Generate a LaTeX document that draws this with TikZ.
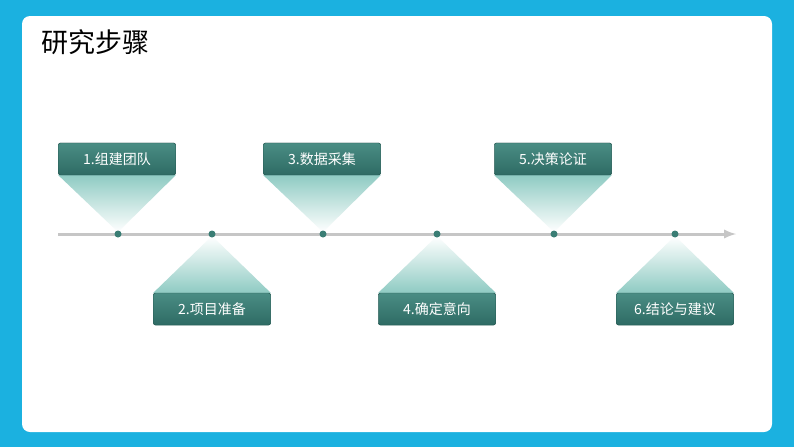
\documentclass[tikz,border=0pt]{standalone}
\usepackage{fontspec}
\setmainfont{Noto Sans CJK SC}
\begin{document}
\begin{tikzpicture}[x=1pt,y=-1pt]
\definecolor{frame}{HTML}{1BB1E0}
\definecolor{boxc}{HTML}{2E6B64}
\definecolor{boxl}{HTML}{4A8D84}
\definecolor{fan}{HTML}{8FCBC3}
\definecolor{dotc}{HTML}{3A7D74}
\tikzset{lbl/.style={draw=boxc!80!black,rounded corners=2pt,top color=boxl,bottom color=boxc,text=white,minimum width=117pt,minimum height=32pt,inner sep=0pt,font=\fontsize{14}{16}\selectfont},
 dotn/.style={circle,fill=dotc,inner sep=0pt,minimum size=7pt}}
\useasboundingbox (0,0) rectangle (794,447);
\fill[frame] (0,0) rectangle (794,447);
\fill[white,rounded corners=8pt] (22,16) rectangle (772,432);
\node[anchor=west,font=\fontsize{27}{30}\selectfont] (title) at (38,42) {研究步骤};
\coordinate (ls) at (58,234);
\coordinate (le) at (736,234);
\draw[line width=3pt,gray!45,-latex] (ls) -- (le);
\foreach \n/\x/\t/\up in {1/118/1.组建团队/1,2/212/2.项目准备/0,3/323/3.数据采集/1,4/437/4.确定意向/0,5/554/5.决策论证/1,6/675/6.结论与建议/0}{
  \ifnum\up=1
    \node[lbl] (b\n) at (\x-1,159) {\t};
    \shade[top color=fan,bottom color=white] (b\n.south west) -- (b\n.south east) -- (\x,232) -- cycle;
  \else
    \node[lbl] (b\n) at (\x+0,309) {\t};
    \shade[bottom color=fan,top color=white] (b\n.north west) -- (b\n.north east) -- (\x,236) -- cycle;
  \fi
  \node[dotn] (d\n) at (\x,234) {};
}
\node[lbl] at (b1) {1.组建团队};
\node[lbl] at (b2) {2.项目准备};
\node[lbl] at (b3) {3.数据采集};
\node[lbl] at (b4) {4.确定意向};
\node[lbl] at (b5) {5.决策论证};
\node[lbl] at (b6) {6.结论与建议};
\end{tikzpicture}
\end{document}
